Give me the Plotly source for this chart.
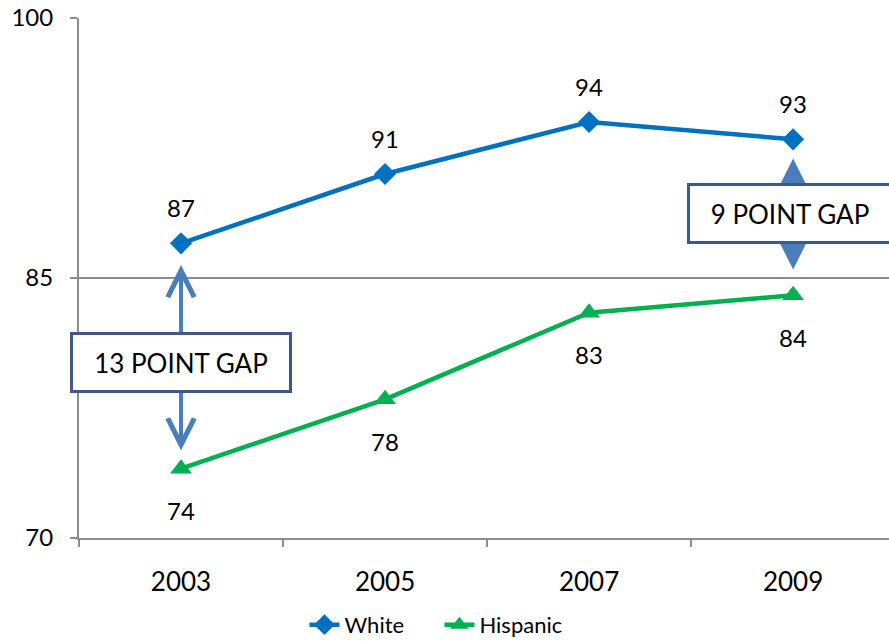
import plotly.graph_objects as go

years = ["2003", "2005", "2007", "2009"]
white = [87, 91, 94, 93]
hispanic = [74, 78, 83, 84]
y_ticks = [70, 85, 100]
gap_labels = ["13 POINT GAP", "9 POINT GAP"]

FONT = "Lato, 'Open Sans', sans-serif"
GRAY = "#8c8c8c"
BLUE = "#0070C0"
GREEN = "#00B050"
ARROW = "#4A7EBB"

xs = list(range(len(years)))

fig = go.Figure()
fig.add_trace(go.Scatter(
    x=xs, y=white, name="White", mode="lines+markers",
    line=dict(color=BLUE, width=4.5),
    marker=dict(symbol="diamond", size=17, color=BLUE),
    cliponaxis=False,
))
fig.add_trace(go.Scatter(
    x=xs, y=hispanic, name="Hispanic", mode="lines+markers",
    line=dict(color=GREEN, width=4.5),
    marker=dict(symbol="triangle-up", size=19, color=GREEN),
    cliponaxis=False,
))

annotations = []
# data labels
for x, v in zip(xs, white):
    annotations.append(dict(x=x, y=v, text=str(v), showarrow=False, yshift=36,
                            font=dict(size=24, color="black", family=FONT)))
for x, v in zip(xs, hispanic):
    annotations.append(dict(x=x, y=v, text=str(v), showarrow=False, yshift=-42,
                            font=dict(size=24, color="black", family=FONT)))

# gap arrows (first and last year)
for i, head, size, top, bot in [(0, 5, 1.3, 1.25, 0.96), (3, 2, 1.6, 1.1, 1.4)]:
    annotations.append(dict(
        x=xs[i], y=white[i] - top, ax=xs[i], ay=hispanic[i] + bot,
        xref="x", yref="y", axref="x", ayref="y", text="", showarrow=True,
        arrowhead=head, startarrowhead=head, arrowside="end+start",
        arrowwidth=4, arrowsize=size, startarrowsize=size, arrowcolor=ARROW))

# gap boxes
annotations.append(dict(
    x=xs[0], y=(white[0] + hispanic[0]) / 2 - 0.35, text=gap_labels[0],
    showarrow=False, font=dict(size=26, color="black", family=FONT),
    bgcolor="white", bordercolor="#3B5A89", borderwidth=3, borderpad=12,
    width=192, height=31))
annotations.append(dict(
    x=xs[3], y=(white[3] + hispanic[3]) / 2 + 0.25, text=gap_labels[1],
    showarrow=False, xshift=-3, font=dict(size=26, color="black", family=FONT),
    bgcolor="white", bordercolor="#3B5A89", borderwidth=3, borderpad=12,
    width=176, height=31))

fig.update_layout(
    width=889, height=643,
    margin=dict(l=79, r=0, t=18, b=105, autoexpand=False),
    plot_bgcolor="white", paper_bgcolor="white",
    font=dict(family=FONT, size=24, color="black"),
    showlegend=True,
    annotations=annotations,
    legend=dict(orientation="h", x=0.445, xanchor="center", y=-0.167,
                yanchor="middle", font=dict(size=22), entrywidth=90,
                bgcolor="rgba(0,0,0,0)"),
)
fig.update_xaxes(
    range=[-0.5, 3.47], tickvals=xs, ticktext=years, ticks="",
    minor=dict(tick0=-0.5, dtick=1, ticks="outside", ticklen=7,
               tickcolor=GRAY, tickwidth=2, showgrid=False),
    showline=True, linecolor=GRAY, linewidth=2, showgrid=False, zeroline=False,
    ticklabelstandoff=20, tickfont=dict(size=26), automargin=False,
)
fig.update_yaxes(
    range=[70, 100], tickvals=y_ticks, ticks="outside", ticklen=7,
    tickcolor=GRAY, tickwidth=2, showline=True, linecolor=GRAY, linewidth=2,
    showgrid=True, gridcolor=GRAY, gridwidth=2, zeroline=False,
    ticklabelstandoff=12, tickfont=dict(size=24), automargin=False,
)

fig.write_html("out.html", config={"displayModeBar": False},
               post_script="document.body.style.margin='0';")
